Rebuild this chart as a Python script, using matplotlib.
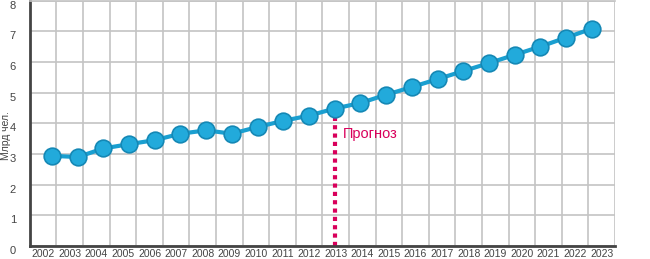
import numpy as np
import matplotlib
matplotlib.use("Agg")
import matplotlib.pyplot as plt

plt.rcParams["font.family"] = ["Liberation Sans", "DejaVu Sans"]

years = list(range(2002, 2024))
values = [2.94, 2.90, 3.18, 3.32, 3.45, 3.66, 3.77, 3.66, 3.88, 4.08, 4.25,
          4.48, 4.66, 4.93, 5.18, 5.44, 5.70, 5.96, 6.23, 6.50, 6.79, 7.08]
forecast_year = 2013
y_ticks = list(range(0, 9))

fig = plt.figure(figsize=(6.5, 2.59), dpi=100)
ax = fig.add_axes([0.046, 0.05, 0.9, 0.948])

n = len(years)
# columns: one per year, labels centred in columns
ax.set_xlim(0, n)
ax.set_ylim(0, 8)
ax.set_xticks(np.arange(n) + 0.5)
ax.set_xticklabels([str(y) for y in years], fontsize=7.5, color="#444444")
ax.set_xticks(np.arange(1, n + 1), minor=True)
ax.set_yticks(y_ticks)
ax.set_yticklabels([str(t) for t in y_ticks], fontsize=8, color="#444444",
                   va="top")
ax.tick_params(axis="both", which="both", length=0)
ax.tick_params(axis="y", pad=10)
ax.tick_params(axis="x", pad=2)

ax.grid(True, which="minor", axis="x", color="#c4c4c4", lw=1.2)
ax.grid(True, which="major", axis="y", color="#c4c4c4", lw=1.2)
ax.set_axisbelow(True)

ax.spines["right"].set_visible(False)
ax.spines["top"].set_color("#c4c4c4")
ax.spines["top"].set_linewidth(1.2)
for s in ["left", "bottom"]:
    ax.spines[s].set_color("#444444")
    ax.spines[s].set_linewidth(2)

xs = 0.83 + np.arange(n) * (20.3 / 21)

idx = years.index(forecast_year)
ax.plot([xs[idx], xs[idx]], [0, values[idx]], color="#d9005b", lw=3,
        linestyle=(0, (1, 1)), zorder=2)
ax.text(xs[idx] + 0.3, 3.65, "Прогноз", color="#d9005b", fontsize=10.5,
        va="center", ha="left")

ax.plot(xs, values, color="#1a9fd0", lw=3, zorder=3)
ax.plot(xs, values, linestyle="none", marker="o", markersize=12,
        markerfacecolor="#22aadb", markeredgecolor="#1588b5",
        markeredgewidth=1.2, zorder=4)

ax.set_ylabel("Млрд чел.", fontsize=7.5, color="#444444")
ax.yaxis.set_label_coords(-0.033, 0.45)

fig.savefig("out.png", dpi=100)
